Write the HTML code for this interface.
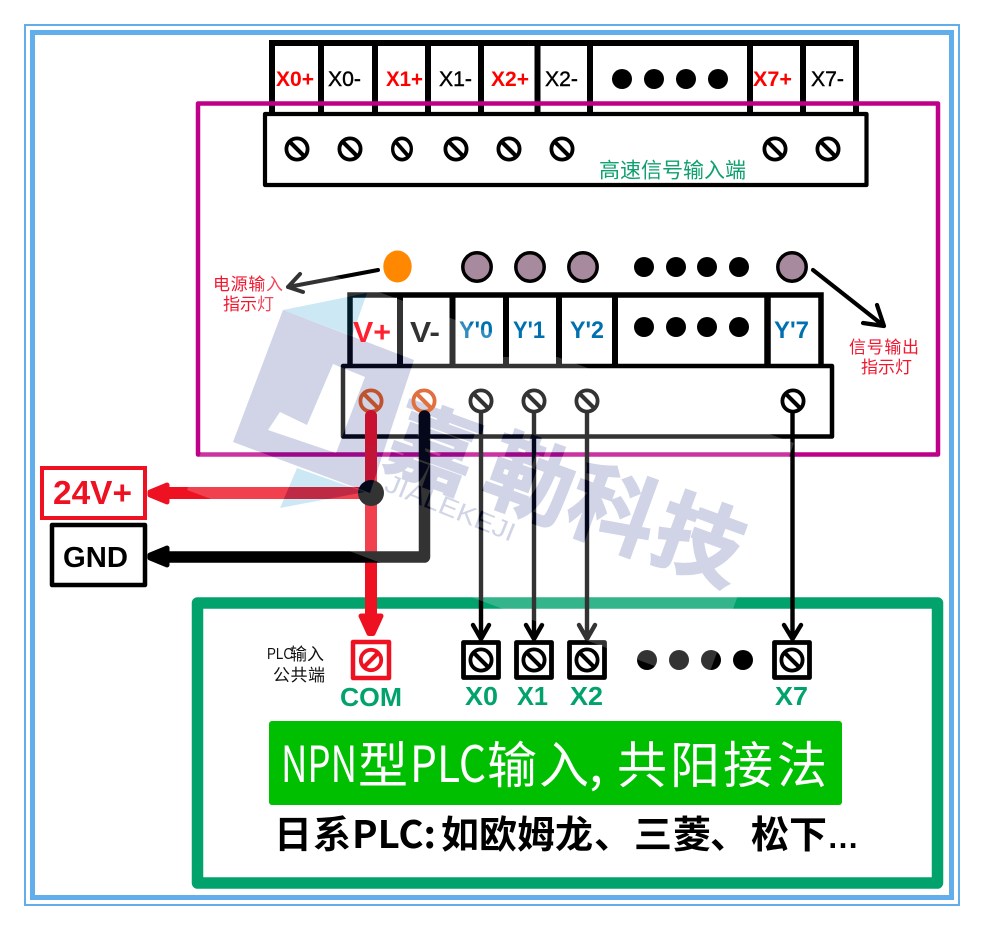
<!DOCTYPE html>
<html><head><meta charset="utf-8"><style>
html,body{margin:0;padding:0;background:#fff}
svg{display:block}
text{font-family:"Liberation Sans","Noto Sans CJK SC",sans-serif}
.c{font-family:"Noto Sans CJK SC","Liberation Sans",sans-serif}
.l{font-weight:700;font-size:21px;fill:#f00}
.k{font-size:21px;fill:#000;stroke:#000;stroke-width:.4}
.y{font-weight:700;font-size:24px;fill:#0070b0}
.g{font-weight:700;font-size:26px;fill:#02a26d}
.r{font-size:17px;fill:#f01830}
.w{font-size:50px;fill:#fff}
.b{font-size:38px;font-weight:700;fill:#000}
</style></head><body>
<svg width="984" height="930" viewBox="0 0 984 930" xmlns="http://www.w3.org/2000/svg" style="isolation:isolate">
<defs>
<g id="s" fill="none" stroke-width="3.800"><circle r="10.600"/><line x1="-7.200" y1="-7.200" x2="7.200" y2="7.200" stroke-width="4.200"/></g>
</defs>
<rect width="984" height="930" fill="#fff"/>
<rect x="25" y="25" width="934" height="880" fill="none" stroke="#62aeea" stroke-width="2"/>
<rect x="32.500" y="32.500" width="919" height="865" fill="none" stroke="#62aeea" stroke-width="5"/>

<!-- top connector -->
<g stroke="#000" stroke-width="6" fill="none">
<path d="M272 116V43H856V116"/>
<path d="M321 43V116M375 43V116M428 43V116M481 43V116M537.500 43V116M590 43V116M750 43V116M803 43V116"/>
</g>
<rect x="198" y="103.500" width="740" height="351" fill="none" stroke="#be0089" stroke-width="4.500" stroke-linejoin="round"/>
<rect x="265" y="114" width="601.500" height="71" fill="none" stroke="#000" stroke-width="4.200" stroke-linejoin="round"/>
<text class="l" x="276" y="86" textLength="38" lengthAdjust="spacingAndGlyphs">X0+</text>
<text class="k" x="328" y="86" textLength="33" lengthAdjust="spacingAndGlyphs">X0-</text>
<text class="l" x="386" y="86" textLength="37" lengthAdjust="spacingAndGlyphs">X1+</text>
<text class="k" x="439" y="86" textLength="33" lengthAdjust="spacingAndGlyphs">X1-</text>
<text class="l" x="491" y="86" textLength="38" lengthAdjust="spacingAndGlyphs">X2+</text>
<text class="k" x="545" y="86" textLength="33" lengthAdjust="spacingAndGlyphs">X2-</text>
<text class="l" x="753" y="86" textLength="39" lengthAdjust="spacingAndGlyphs">X7+</text>
<text class="k" x="811" y="86" textLength="33" lengthAdjust="spacingAndGlyphs">X7-</text>
<g fill="#000"><circle cx="622" cy="79" r="10"/><circle cx="654" cy="79" r="10"/><circle cx="686" cy="79" r="10"/><circle cx="718" cy="79" r="10"/></g>
<g stroke="#000">
<use href="#s" x="297" y="149"/><use href="#s" x="350" y="149"/>
<g transform="translate(402 149) scale(.88 1)"><use href="#s"/></g>
<use href="#s" x="456" y="149"/><use href="#s" x="509" y="149"/><use href="#s" x="562" y="149"/>
<use href="#s" x="775" y="149"/><use href="#s" x="828" y="149"/>
</g>
<text class="c" x="599" y="177.500" font-size="21" fill="#10a070" textLength="147" lengthAdjust="spacingAndGlyphs">高速信号输入端</text>

<!-- LEDs -->
<ellipse cx="397.500" cy="266.500" rx="14.200" ry="16" fill="#ff8800"/>
<g fill="#a88a9f" stroke="#000" stroke-width="3.500">
<circle cx="477" cy="267" r="14.200"/><circle cx="530" cy="267" r="14.200"/><circle cx="583" cy="267" r="14.200"/><circle cx="792" cy="267" r="14.200"/>
</g>
<g fill="#000">
<circle cx="644" cy="267" r="10"/><circle cx="676" cy="267" r="10"/><circle cx="707" cy="267" r="10"/><circle cx="739" cy="267" r="10"/>
<circle cx="644" cy="327" r="10"/><circle cx="676" cy="327" r="10"/><circle cx="707" cy="327" r="10"/><circle cx="739" cy="327" r="10"/>
</g>
<path d="M378 270L288 287M300 274L288 287L303 292" fill="none" stroke="#000" stroke-width="4" stroke-linecap="round" stroke-linejoin="round"/>
<path d="M813 270L884 326M877 305L884 326L863 323" fill="none" stroke="#000" stroke-width="4.200" stroke-linecap="round" stroke-linejoin="round"/>
<text class="c r" x="213" y="290" textLength="70">电源输入</text>
<text class="c r" x="223" y="310" textLength="51">指示灯</text>
<text class="c r" x="849" y="353" textLength="70">信号输出</text>
<text class="c r" x="861" y="373" textLength="51">指示灯</text>

<!-- mid connector -->
<g stroke="#000" stroke-width="6" fill="none">
<path d="M350 368V295H821V368" stroke-width="5.500"/>
<path d="M400 295V368M452.500 295V368M506 295V368M559 295V368M615 295V368"/>
<path d="M767.500 295V368" stroke-width="6.500"/>
</g>
<rect x="343" y="366" width="489" height="70.500" fill="none" stroke="#000" stroke-width="4.500" stroke-linejoin="round"/>
<text x="410" y="342" font-size="29" font-weight="700" fill="#000" textLength="30" lengthAdjust="spacingAndGlyphs">V-</text>
<text class="y" x="459" y="338" textLength="34" lengthAdjust="spacingAndGlyphs">Y'0</text>
<text class="y" x="774" y="338" textLength="35" lengthAdjust="spacingAndGlyphs">Y'7</text>
<g stroke="#000">
<use href="#s" x="481" y="401"/><use href="#s" x="534" y="401"/><use href="#s" x="587" y="401"/><use href="#s" x="793" y="401"/>
</g>

<!-- green box -->
<rect x="197.500" y="603" width="740" height="280" fill="none" stroke="#02a26d" stroke-width="11.500" stroke-linejoin="round"/>

<!-- wires -->
<path d="M371 416V620" stroke="#ee1122" stroke-width="12" stroke-linecap="round" fill="none"/>
<path d="M371 493H168" stroke="#ee1122" stroke-width="12" fill="none"/>
<path d="M361 616H381L373 633.500H369Z" fill="#ee1122" stroke="#ee1122" stroke-width="5" stroke-linejoin="round"/>
<path d="M167 485V502L150 495V492Z" fill="#ee1122" stroke="#ee1122" stroke-width="5" stroke-linejoin="round"/>
<path d="M424.500 416V557H168" stroke="#000" stroke-width="11.500" fill="none" stroke-linejoin="round" stroke-linecap="round"/>
<path d="M167 548V565L150 558V555Z" fill="#000" stroke="#000" stroke-width="5" stroke-linejoin="round"/>
<circle cx="371" cy="493" r="13" fill="#000"/>
<g stroke="#000" stroke-width="4.400" fill="none" stroke-linecap="round" stroke-linejoin="round">
<path d="M481 413V638M473 625L481 639L489 625"/>
<path d="M534 413V638M526 625L534 639L542 625"/>
<path d="M587 413V638M579 625L587 639L595 625"/>
<path d="M792.500 413V638M784 625L792.500 639L801 625"/>
</g>

<!-- 24V / GND -->
<rect x="42" y="468" width="103" height="50" fill="#fff" stroke="#ee1122" stroke-width="4"/>
<text x="53" y="504" font-size="33" font-weight="700" fill="#ee1122" textLength="79" lengthAdjust="spacingAndGlyphs">24V+</text>
<rect x="52" y="525" width="93" height="60" fill="#fff" stroke="#000" stroke-width="4.500" stroke-linejoin="round"/>
<text x="63" y="567" font-size="29" font-weight="700" fill="#000" textLength="65" lengthAdjust="spacingAndGlyphs">GND</text>

<!-- bottom terminals -->
<rect x="353" y="642" width="36" height="36" fill="#fff" stroke="#ee1122" stroke-width="4.500" stroke-linejoin="round"/>
<g fill="none" stroke="#ee1122" stroke-width="3.800"><circle cx="371" cy="660" r="10.200"/><line x1="364" y1="667" x2="378" y2="653" stroke-width="4.200"/></g>
<g fill="#fff" stroke="#000" stroke-width="4.800" stroke-linejoin="round">
<rect x="463.500" y="642.500" width="35" height="35"/><rect x="516.500" y="642.500" width="35" height="35"/><rect x="569.500" y="642.500" width="35" height="35"/><rect x="774.500" y="642.500" width="35" height="35"/>
</g>
<g stroke="#000">
<use href="#s" x="481" y="660"/><use href="#s" x="534" y="660"/><use href="#s" x="587" y="660"/><use href="#s" x="792" y="660"/>
</g>
<g fill="#000"><circle cx="647" cy="660" r="10"/><circle cx="679" cy="660" r="10"/><circle cx="711" cy="660" r="10"/><circle cx="743" cy="660" r="10"/></g>
<text class="g" x="340" y="706" textLength="62" lengthAdjust="spacingAndGlyphs">COM</text>
<text class="g" x="465" y="705" textLength="33" lengthAdjust="spacingAndGlyphs">X0</text>
<text class="g" x="517" y="705" textLength="31" lengthAdjust="spacingAndGlyphs">X1</text>
<text class="g" x="570" y="705" textLength="33" lengthAdjust="spacingAndGlyphs">X2</text>
<text class="g" x="775" y="705" textLength="33" lengthAdjust="spacingAndGlyphs">X7</text>
<text x="267" y="659" font-size="16" fill="#111" textLength="26" lengthAdjust="spacingAndGlyphs">PLC</text>
<text class="c" x="290" y="660" font-size="17" fill="#111">输入</text>
<text class="c" x="273" y="681" font-size="17" fill="#111" textLength="52">公共端</text>

<!-- banner -->
<rect x="269" y="721" width="573" height="84" rx="3" fill="#00bf00"/>
<text class="w c" x="281" y="782" textLength="76" lengthAdjust="spacingAndGlyphs">NPN</text>
<text class="w c" x="358" y="783">型</text>
<text class="w c" x="410" y="782" textLength="76" lengthAdjust="spacingAndGlyphs">PLC</text>
<text class="w c" x="487" y="783">输</text>
<text class="w c" x="539" y="783">入</text>
<text class="w c" x="589" y="782">,</text>
<text class="w c" x="617" y="783">共</text>
<text class="w c" x="670" y="783">阳</text>
<text class="w c" x="723" y="783">接</text>
<text class="w c" x="777" y="783">法</text>
<text class="b c" x="274" y="848">日</text>
<text class="b c" x="313" y="848">系</text>
<text class="b c" x="352" y="848" textLength="84" lengthAdjust="spacingAndGlyphs">PLC:</text>
<text class="b c" x="441 479 517 555 594" y="848">如欧姆龙、</text>
<text class="b c" x="634 673 710" y="848">三菱、</text>
<text class="b c" x="751 789" y="848">松下</text>
<text x="827" y="848" font-size="32" font-weight="700" fill="#000">…</text>

<!-- watermark: translucent white plate -->
<polygon points="274,254 794,443 705,685 187,490" fill="#fff" fill-opacity=".2"/>
<!-- watermark: logo -->
<g style="mix-blend-mode:difference" fill="#2f2b19">
<path fill-rule="evenodd" d="M283 310L414 360L370 493L233 442ZM333 364L365 377L336 453L268 430L280 412L307 425Z"/>
<g font-weight="700" font-size="88" stroke="#2f2b19" stroke-width="2">
<text class="c" text-anchor="middle" transform="translate(433 450) rotate(20)" y="30">嘉</text>
<text class="c" text-anchor="middle" transform="translate(530 482) rotate(20)" y="30">勒</text>
<text class="c" text-anchor="middle" transform="translate(613 512) rotate(20)" y="30">科</text>
<text class="c" text-anchor="middle" transform="translate(699 542) rotate(20)" y="30">技</text>
</g>
<text text-anchor="middle" font-size="26" transform="translate(447 516) rotate(22)" textLength="138" lengthAdjust="spacingAndGlyphs">JIALEKEJI</text>
</g>
<g style="mix-blend-mode:difference" fill="#33170a">
<polygon points="283,310 367,293 352,336"/>
<polygon points="297,468 280,508 365,492"/>
</g>

<!-- elements that sit clear of the plate -->
<text x="353" y="342" font-size="29" font-weight="700" fill="#ff2030" textLength="38" lengthAdjust="spacingAndGlyphs">V+</text>
<path d="M506 298V357M559 298V357" stroke="#000" stroke-width="6" fill="none"/>
<text class="y" x="513" y="338" textLength="32" lengthAdjust="spacingAndGlyphs">Y'1</text>
<text class="y" x="570" y="338" textLength="34" lengthAdjust="spacingAndGlyphs">Y'2</text>

<!-- coloured screws on top -->
<g fill="none" stroke-width="3.800">
<g stroke="#c0532f"><circle cx="371" cy="401" r="10.600"/><line x1="363.800" y1="393.800" x2="378.200" y2="408.200" stroke-width="4.200"/></g>
<g stroke="#e07040"><circle cx="424" cy="401" r="10.600"/><line x1="416.800" y1="393.800" x2="431.200" y2="408.200" stroke-width="4.200"/></g>
</g>
<path d="M371 416V440" stroke="#c81030" stroke-width="12" stroke-linecap="round"/>
<path d="M424.500 416V436" stroke="#04081a" stroke-width="11.500" stroke-linecap="round"/>
</svg>
</body></html>
